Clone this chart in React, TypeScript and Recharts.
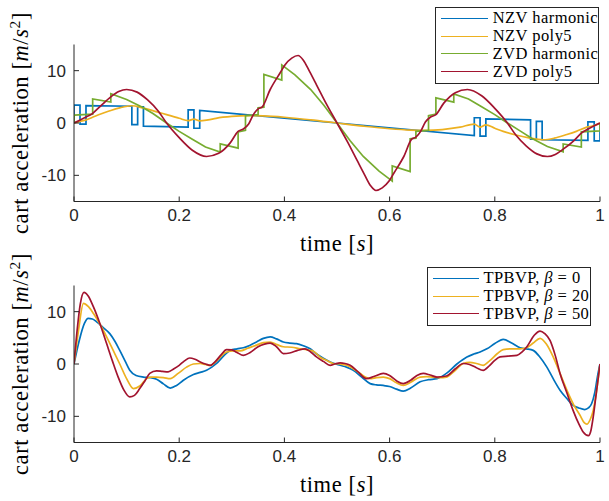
import React from "react";
import { LineChart, Line, XAxis, YAxis, Label } from "recharts";

type Pt = [number, number];

// shared axes
const timeTicks = [0, 0.2, 0.4, 0.6, 0.8, 1];
const timeTickLabels = ["0", "0.2", "0.4", "0.6", "0.8", "1"];
const accelTicks = [-10, 0, 10];

// top panel: input shaped accelerations [time, value]
const nzvHarmonic: Pt[] = [
  [0, 0], [0, 3.4], [0.0114, 3.4], [0.0114, -0.2], [0.0228, -0.2], [0.0228, 3.3],
  [0.11, 3.2], [0.11, -0.3], [0.121, -0.3], [0.121, 3.1], [0.132, 3.1], [0.132, -0.6],
  [0.217, -0.8], [0.217, 2.5], [0.228, 2.5], [0.228, -1.0], [0.239, -1.0], [0.239, 2.4],
  [0.5, 0],
  [0.761, -2.4], [0.761, 1.0], [0.772, 1.0], [0.772, -2.5], [0.783, -2.5], [0.783, 0.8],
  [0.868, 0.6], [0.868, -3.1], [0.879, -3.1], [0.879, 0.3], [0.89, 0.3], [0.89, -3.2],
  [0.977, -3.3], [0.977, 0.2], [0.989, 0.2], [0.989, -3.4], [1, -3.4], [1, 0],
];

const nzvPoly5: Pt[] = [
  [0, 0], [0.011, 0.3], [0.023, 0.6], [0.04, 1.3], [0.056, 1.9], [0.07, 2.4], [0.087, 2.9],
  [0.11, 3.3], [0.13, 2.9], [0.145, 2.5], [0.165, 1.9], [0.183, 1.4], [0.2, 0.9],
  [0.217, 0.45], [0.228, 0.75], [0.239, 0.4], [0.255, 0.6], [0.27, 0.9], [0.3, 1.25],
  [0.33, 1.4], [0.36, 1.35], [0.4, 1.1], [0.45, 0.6], [0.5, 0], [0.55, -0.6],
  [0.6, -1.1], [0.64, -1.35], [0.67, -1.4], [0.7, -1.25], [0.734, -0.8], [0.761, -0.2],
  [0.772, -0.8], [0.783, -0.35], [0.8, -1.0], [0.816, -1.6], [0.84, -2.3], [0.867, -2.9],
  [0.892, -3.2], [0.913, -2.9], [0.937, -2.2], [0.955, -1.6], [0.975, -0.8], [0.989, -0.5], [1, 0],
];

const zvdHarmonic: Pt[] = [
  [0, 0], [0, 1.5], [0.0355, 1.7], [0.0355, 4.6], [0.07, 4.0], [0.07, 5.6],
  [0.1, 4.5], [0.13, 3.0], [0.15, 1.8], [0.176, 0], [0.2, -1.6], [0.225, -3.1],
  [0.25, -4.6], [0.278, -5.55], [0.278, -4.0], [0.312, -4.8], [0.312, -1.7],
  [0.326, -1.4], [0.326, 1.4], [0.35, 1.6], [0.35, 2.9], [0.361, 3.0], [0.361, 9.3],
  [0.395, 8.2], [0.395, 11.1], [0.42, 9.2], [0.45, 6.4], [0.475, 3.4], [0.5, 0],
  [0.525, -3.4], [0.55, -6.4], [0.58, -9.2], [0.605, -11.1], [0.605, -8.2],
  [0.639, -9.3], [0.639, -3.0], [0.65, -2.9], [0.65, -1.6], [0.674, -1.4], [0.674, 1.4],
  [0.688, 1.7], [0.688, 4.8], [0.722, 4.0], [0.722, 5.55], [0.75, 4.6], [0.775, 3.1],
  [0.8, 1.6], [0.824, 0], [0.848, -1.5], [0.87, -2.9], [0.9, -4.5], [0.93, -5.5],
  [0.93, -4.0], [0.9645, -4.6], [0.9645, -1.7], [1, -1.5], [1, 0],
];

const zvdPoly5: Pt[] = [
  [0, 0], [0.02, 1.0], [0.035, 1.8], [0.05, 3.2], [0.07, 5.0], [0.085, 6.0], [0.1, 6.4],
  [0.12, 5.9], [0.14, 4.4], [0.16, 2.3], [0.176, 0], [0.2, -2.8], [0.225, -5.2],
  [0.252, -6.4], [0.275, -5.8], [0.297, -3.8], [0.312, -1.6], [0.322, -1.15],
  [0.332, -0.2], [0.341, 1.6], [0.35, 2.7], [0.358, 3.1], [0.373, 6.4], [0.392, 9.6],
  [0.401, 11.1], [0.414, 12.4], [0.426, 12.9], [0.436, 12.0], [0.448, 9.8], [0.461, 7.3],
  [0.48, 3.6], [0.5, 0],
  [0.52, -3.6], [0.539, -7.3], [0.552, -9.8], [0.564, -12.0], [0.574, -12.9], [0.586, -12.4],
  [0.599, -11.1], [0.608, -9.6], [0.627, -6.4], [0.642, -3.1], [0.65, -2.7], [0.659, -1.6],
  [0.668, 0.2], [0.678, 1.15], [0.688, 1.6], [0.703, 3.8], [0.725, 5.8], [0.748, 6.4],
  [0.775, 5.2], [0.8, 2.8], [0.824, 0], [0.84, -2.3], [0.86, -4.4], [0.88, -5.9],
  [0.9, -6.4], [0.915, -6.0], [0.93, -5.0], [0.95, -3.4], [0.965, -1.9], [0.98, -1.0], [1, 0],
];

// bottom panel: TPBVP solutions for several beta
const betaValues = [0, 20, 50];

const tpbvpBeta0: Pt[] = [
  [0, 0], [0.01, 4.5], [0.02, 7.8], [0.027, 8.7], [0.035, 8.6], [0.043, 8.05], [0.055, 7.0],
  [0.068, 5.8], [0.078, 4.3], [0.087, 2.6], [0.097, 0.6], [0.106, -1.2], [0.118, -2.2],
  [0.132, -2.5], [0.145, -2.6], [0.157, -2.9], [0.17, -3.8], [0.183, -4.6], [0.195, -4.1],
  [0.208, -3.1], [0.227, -2.0], [0.24, -1.6], [0.252, -1.2], [0.262, -0.6], [0.271, 0.1],
  [0.285, 1.6], [0.297, 2.6], [0.31, 2.9], [0.322, 3.1], [0.335, 3.6], [0.347, 4.2],
  [0.36, 4.9], [0.373, 5.2], [0.385, 4.8], [0.398, 4.2], [0.41, 4.0], [0.423, 3.9],
  [0.436, 3.5], [0.449, 2.9], [0.46, 2.0], [0.474, 1.1], [0.487, 0.4], [0.506, -0.25],
  [0.518, -0.6], [0.531, -1.2], [0.547, -2.5], [0.563, -3.75], [0.575, -4.0], [0.588, -4.1],
  [0.6, -4.3], [0.613, -4.8], [0.626, -5.2], [0.64, -4.6], [0.658, -3.4], [0.674, -3.0],
  [0.69, -2.8], [0.708, -1.8], [0.728, 0.0], [0.747, 1.35], [0.76, 1.9], [0.772, 2.3],
  [0.785, 2.9], [0.8, 3.9], [0.816, 4.7], [0.832, 4.0], [0.848, 3.1], [0.86, 2.9],
  [0.873, 2.6], [0.886, 1.3], [0.899, -0.6], [0.911, -2.8], [0.924, -5.0], [0.937, -6.6],
  [0.949, -7.9], [0.96, -8.4], [0.971, -8.7], [0.978, -8.4], [0.984, -7.6], [0.99, -5.5],
  [0.995, -2.5], [1, 0],
];

const tpbvpBeta20: Pt[] = [
  [0, 0], [0.008, 6.0], [0.018, 11.6], [0.027, 11.0], [0.037, 9.65], [0.05, 7.5],
  [0.062, 5.2], [0.075, 2.5], [0.087, 0], [0.1, -2.8], [0.113, -4.7], [0.125, -4.2],
  [0.138, -2.8], [0.147, -2.5], [0.157, -2.5], [0.17, -2.6], [0.183, -2.8], [0.198, -1.8],
  [0.214, -0.6], [0.227, 0.0], [0.24, 0.1], [0.25, -0.1], [0.259, -0.25], [0.275, 1.0],
  [0.29, 2.3], [0.303, 2.5], [0.316, 2.5], [0.33, 3.0], [0.347, 3.6], [0.36, 4.1],
  [0.373, 4.2], [0.386, 3.7], [0.398, 3.3], [0.414, 3.2], [0.43, 2.9], [0.443, 2.7],
  [0.456, 2.4], [0.468, 1.3], [0.48, 0.7], [0.493, 0.1], [0.506, 0.0], [0.518, -0.25],
  [0.531, -0.9], [0.544, -1.8], [0.556, -2.6], [0.563, -2.8], [0.575, -2.6], [0.588, -2.5],
  [0.6, -2.8], [0.613, -3.6], [0.626, -4.1], [0.64, -3.5], [0.658, -2.5], [0.67, -2.4],
  [0.683, -2.5], [0.695, -2.6], [0.708, -2.5], [0.725, -1.2], [0.74, 0.1], [0.752, 0.3],
  [0.765, 0.1], [0.778, -0.25], [0.79, 0.6], [0.805, 2.0], [0.816, 2.75], [0.83, 2.9],
  [0.848, 2.9], [0.86, 3.1], [0.873, 4.0], [0.886, 4.9], [0.898, 3.8], [0.911, 1.35],
  [0.924, -1.8], [0.937, -5.0], [0.95, -7.8], [0.962, -9.8], [0.97, -11.2], [0.975, -11.5],
  [0.981, -10.7], [0.987, -8.9], [0.993, -5.5], [1, 0],
];

const tpbvpBeta50: Pt[] = [
  [0, 0], [0.006, 6.5], [0.012, 11.5], [0.019, 13.7], [0.027, 13.0], [0.037, 10.9],
  [0.05, 7.5], [0.062, 3.9], [0.073, 0.6], [0.084, -2.5], [0.095, -5.0], [0.106, -6.3],
  [0.115, -6.0], [0.125, -4.7], [0.135, -3.2], [0.144, -1.8], [0.157, -1.3], [0.168, -1.4],
  [0.179, -1.5], [0.19, -0.9], [0.2, -0.25], [0.21, 0.6], [0.22, 1.15], [0.23, 0.9],
  [0.24, 0.4], [0.25, 0.0], [0.259, -0.25], [0.268, 0.4], [0.28, 1.8], [0.29, 2.75],
  [0.3, 2.7], [0.31, 2.2], [0.322, 1.65], [0.335, 2.2], [0.35, 3.3], [0.362, 3.8],
  [0.373, 4.0], [0.385, 3.3], [0.398, 2.0], [0.41, 2.1], [0.425, 2.6], [0.439, 2.9],
  [0.45, 2.3], [0.461, 1.35], [0.474, 0.5], [0.487, -0.25], [0.497, 0.05], [0.506, 0.2],
  [0.515, 0.1], [0.525, -0.25], [0.54, -1.5], [0.556, -2.8], [0.57, -2.4], [0.588, -1.8],
  [0.6, -2.2], [0.613, -3.2], [0.626, -3.75], [0.64, -3.1], [0.652, -2.2], [0.664, -1.8],
  [0.677, -2.1], [0.69, -2.5], [0.708, -2.3], [0.725, -0.9], [0.74, 0.1], [0.752, -0.1],
  [0.765, -0.7], [0.778, -1.2], [0.79, -0.3], [0.8, 0.7], [0.81, 1.35], [0.825, 1.5],
  [0.842, 1.65], [0.852, 2.3], [0.861, 3.3], [0.875, 5.5], [0.886, 6.3], [0.895, 5.8],
  [0.905, 4.5], [0.915, 1.6], [0.924, -1.8], [0.937, -5.5], [0.949, -8.9], [0.96, -11.5],
  [0.968, -13.0], [0.978, -13.7], [0.983, -12.6], [0.987, -10.2], [0.993, -5.5], [1, 0],
];

const AXIS = "#262626";
const SERIF = "Liberation Serif";
const SANS = "Liberation Sans";

const BLUE = "#0072BD";
const YELLOW = "#EDB120";
const GREEN = "#77AC30";
const RED = "#A2142F";

type Series = { key: string; label: React.ReactNode; color: string; pts: Pt[]; steps?: boolean };

const topSeries: Series[] = [
  { key: "nzvh", label: "NZV harmonic", color: BLUE, pts: nzvHarmonic, steps: true },
  { key: "nzvp", label: "NZV poly5", color: YELLOW, pts: nzvPoly5 },
  { key: "zvdh", label: "ZVD harmonic", color: GREEN, pts: zvdHarmonic, steps: true },
  { key: "zvdp", label: "ZVD poly5", color: RED, pts: zvdPoly5 },
];

const betaLabel = (b: number) => (
  <>
    TPBVP, <i>β</i> = {b}
  </>
);

const bottomSeries: Series[] = [
  { key: "b0", label: betaLabel(betaValues[0]), color: BLUE, pts: tpbvpBeta0 },
  { key: "b20", label: betaLabel(betaValues[1]), color: YELLOW, pts: tpbvpBeta20 },
  { key: "b50", label: betaLabel(betaValues[2]), color: RED, pts: tpbvpBeta50 },
];

const toRows = (pts: Pt[]) => pts.map(([t, v]) => ({ t, v }));

const XLabel = (props: any) => {
  const { x, y, width } = props.viewBox;
  return (
    <text
      x={x + width / 2}
      y={y + 49.5}
      textAnchor="middle"
      style={{ fontFamily: SERIF, fontSize: 22.5, letterSpacing: 0.6 }}
      fill="#000"
    >
      time [<tspan fontStyle="italic">s</tspan>]
    </text>
  );
};

const YLabel = (props: any) => {
  const { y, height } = props.viewBox;
  const cx = 28;
  const cy = y + height / 2;
  return (
    <text
      x={cx}
      y={cy}
      textAnchor="middle"
      style={{ fontFamily: SERIF, fontSize: 22.5, letterSpacing: 0.6 }}
      fill="#000"
      transform={`rotate(-90, ${cx}, ${cy})`}
    >
      cart acceleration [<tspan fontStyle="italic">m</tspan>/<tspan fontStyle="italic">s</tspan>
      <tspan dy={-8} style={{ fontSize: 15.5 }}>2</tspan>
      <tspan dy={8}>]</tspan>
    </text>
  );
};

type LegendProps = {
  items: Series[];
  left: number;
  top: number;
  width: number;
  height: number;
  padTop: number;
  padLeft: number;
  lineW: number;
  gap: number;
};

const LegendBox = ({ items, left, top, width, height, padTop, padLeft, lineW, gap }: LegendProps) => (
  <div
    style={{
      position: "absolute",
      left,
      top,
      width,
      height,
      boxSizing: "border-box",
      border: `1px solid ${AXIS}`,
      background: "#fff",
      paddingTop: padTop,
      paddingLeft: padLeft,
      fontFamily: SERIF,
      fontSize: 16.5,
      letterSpacing: 0.45,
      color: "#000",
    }}
  >
    {items.map((it) => (
      <div key={it.key} style={{ display: "flex", alignItems: "center", height: 17.8 }}>
        <div style={{ width: lineW, height: 0, borderTop: `1.6px solid ${it.color}` }} />
        <span style={{ marginLeft: gap, whiteSpace: "nowrap", lineHeight: "17.8px" }}>{it.label}</span>
      </div>
    ))}
  </div>
);

const Panel = ({ series, top, legend }: { series: Series[]; top: number; legend: Omit<LegendProps, "items"> }) => (
  <div style={{ position: "absolute", left: 0, top, width: 609, height: 258 }}>
    <LineChart width={609} height={258} margin={{ top: 44.5, right: 9, bottom: 1.5, left: 14 }}>
      <XAxis
        xAxisId="b"
        dataKey="t"
        type="number"
        domain={[0, 1]}
        ticks={timeTicks}
        tickFormatter={(v: number) => timeTickLabels[timeTicks.indexOf(v)]}
        allowDataOverflow
        height={55}
        stroke={AXIS}
        tickSize={-5}
        tickMargin={12.5}
        tick={{ fill: AXIS, fontSize: 17, fontFamily: SANS }}
      >
        <Label content={XLabel} />
      </XAxis>
      <XAxis
        xAxisId="t"
        orientation="top"
        dataKey="t"
        type="number"
        domain={[0, 1]}
        ticks={timeTicks}
        tickFormatter={() => ""}
        allowDataOverflow
        height={0}
        stroke={AXIS}
        tickSize={-5}
      />
      <YAxis
        yAxisId="l"
        type="number"
        domain={[-15, 15]}
        ticks={accelTicks}
        allowDataOverflow
        width={60}
        stroke={AXIS}
        tickSize={-5}
        tickMargin={13}
        tick={{ fill: AXIS, fontSize: 17, fontFamily: SANS }}
      >
        <Label content={YLabel} />
      </YAxis>
      <YAxis
        yAxisId="r"
        orientation="right"
        type="number"
        domain={[-15, 15]}
        ticks={accelTicks}
        tickFormatter={() => ""}
        allowDataOverflow
        width={0}
        stroke={AXIS}
        tickSize={-5}
      />
      {series.map((s) => (
        <Line
          key={s.key}
          xAxisId="b"
          yAxisId="l"
          data={toRows(s.pts)}
          dataKey="v"
          type={s.steps ? "linear" : "monotone"}
          stroke={s.color}
          strokeWidth={1.7}
          dot={false}
          activeDot={false}
          isAnimationActive={false}
        />
      ))}
    </LineChart>
    <LegendBox items={series} {...legend} />
  </div>
);

export default function App() {
  return (
    <div style={{ position: "absolute", left: 0, top: 0, width: 609, height: 501, background: "#fff" }}>
      <Panel
        series={topSeries}
        top={0}
        legend={{ left: 435, top: 7.3, width: 164.3, height: 76.7, padTop: 1.1, padLeft: 4.7, lineW: 47.6, gap: 4.4 }}
      />
      <Panel
        series={bottomSeries}
        top={240.5}
        legend={{ left: 427.3, top: 26.2, width: 163.4, height: 59.3, padTop: 1.7, padLeft: 4.4, lineW: 46.6, gap: 4.1 }}
      />
    </div>
  );
}
